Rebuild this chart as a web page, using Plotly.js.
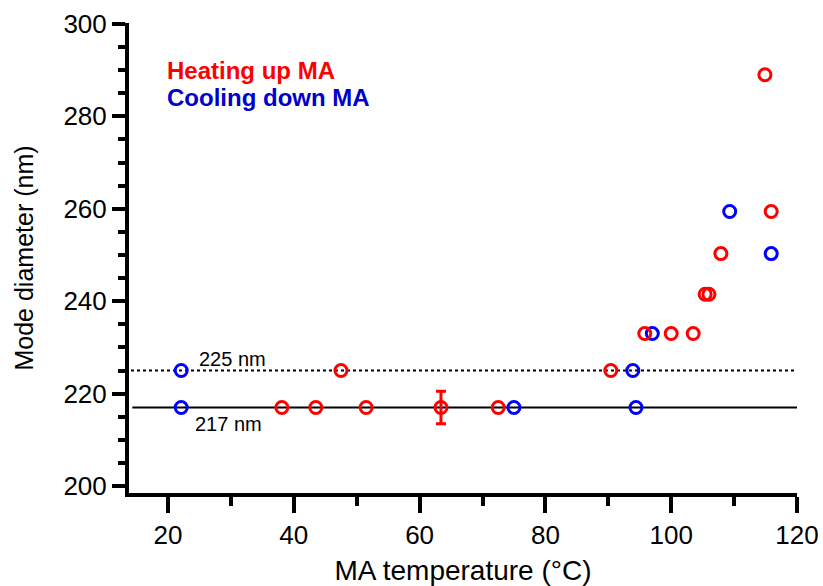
<!DOCTYPE html>
<html>
<head>
<meta charset="utf-8">
<script src="https://cdn.plot.ly/plotly-3.0.1.min.js"></script>
<style>html,body{margin:0;padding:0;background:#fff;}#chart{width:823px;height:586px;}</style>
</head>
<body>
<div id="chart"></div>
<script>
// Heating up MA
var heatX = [38.1, 43.5, 47.5, 51.5, 63.4, 72.5, 90.4, 95.8, 100.0, 103.5, 105.4, 106.0, 107.9, 114.9, 115.9];
var heatY = [217, 217, 225, 217, 217, 217, 225, 233, 233, 233, 241.5, 241.5, 250.3, 289, 259.4];
var heatErr = [0, 0, 0, 0, 3.5, 0, 0, 0, 0, 0, 0, 0, 0, 0, 0];
// Cooling down MA
var coolX = [22.1, 22.1, 75.0, 93.9, 94.4, 97.0, 109.3, 115.9];
var coolY = [225, 217, 217, 225, 217, 233, 259.4, 250.3];
// reference levels
var refSolid = 217;
var refDotted = 225;
var refLabels = ["225 nm", "217 nm"];
var seriesNames = ["Heating up MA", "Cooling down MA"];
var xTicks = [20, 40, 60, 80, 100, 120];
var yTicks = [200, 220, 240, 260, 280, 300];

var FONT = "Arial, 'Liberation Sans', sans-serif";
var RED = "#ff0000", BLUE = "#0000ff", BLUE_TXT = "#0000cc";

// split heating points into those with / without error bars
var hx0 = [], hy0 = [], hx1 = [], hy1 = [], he1 = [];
for (var i = 0; i < heatX.length; i++) {
  if (heatErr[i] > 0) { hx1.push(heatX[i]); hy1.push(heatY[i]); he1.push(heatErr[i]); }
  else { hx0.push(heatX[i]); hy0.push(heatY[i]); }
}

var redMarker = {symbol: "circle-open", size: 12, color: RED, line: {width: 3, color: RED}};
var traces = [
  {x: coolX, y: coolY, type: "scatter", mode: "markers", name: seriesNames[1],
   marker: {symbol: "circle-open", size: 12, color: BLUE, line: {width: 3, color: BLUE}}},
  {x: hx0, y: hy0, type: "scatter", mode: "markers", name: seriesNames[0], marker: redMarker},
  {x: hx1, y: hy1, type: "scatter", mode: "markers", name: seriesNames[0], marker: redMarker,
   error_y: {type: "data", array: he1, visible: true, color: RED, thickness: 3, width: 5}}
];

var layout = {
  width: 823, height: 586,
  margin: {l: 129, r: 26, t: 23, b: 93},
  paper_bgcolor: "#fff", plot_bgcolor: "#fff",
  showlegend: false,
  font: {family: FONT, color: "#000"},
  xaxis: {
    range: [13.8, 120], tickvals: xTicks, ticktext: xTicks.map(String),
    ticks: "outside", ticklen: 16, tickwidth: 4, tickcolor: "#000",
    showline: true, linewidth: 4, linecolor: "#000", showgrid: false, zeroline: false,
    tickfont: {size: 26, family: FONT},
    minor: {dtick: 10, tick0: 0, ticks: "outside", ticklen: 9, tickwidth: 4, tickcolor: "#000", showgrid: false},
    title: {text: "MA temperature (°C)", font: {size: 28, family: FONT}, standoff: 12}
  },
  yaxis: {
    range: [198.5, 300.2], tickvals: yTicks, ticktext: yTicks.map(String),
    ticks: "outside", ticklen: 13, tickwidth: 4, tickcolor: "#000",
    showline: true, linewidth: 4, linecolor: "#000", showgrid: false, zeroline: false,
    tickfont: {size: 26, family: FONT},
    minor: {dtick: 5, tick0: 0, ticks: "outside", ticklen: 7, tickwidth: 4, tickcolor: "#000", showgrid: false},
    title: {text: "Mode diameter (nm)", font: {size: 25, family: FONT}, standoff: 24}
  },
  shapes: [
    {type: "line", xref: "paper", x0: 0.005, x1: 1, yref: "y", y0: refSolid, y1: refSolid,
     line: {color: "#000", width: 2}, layer: "below"},
    {type: "line", xref: "paper", x0: 0.003, x1: 0.997, yref: "y", y0: refDotted, y1: refDotted,
     line: {color: "#000", width: 2, dash: "dot"}, layer: "below"}
  ],
  annotations: [
    {x: 24.6, y: refDotted, yshift: 12, xref: "x", yref: "y", text: refLabels[0], showarrow: false,
     xanchor: "left", yanchor: "middle", font: {size: 20, family: FONT, color: "#000"}},
    {x: 24.0, y: refSolid, yshift: -16, xref: "x", yref: "y", text: refLabels[1], showarrow: false,
     xanchor: "left", yanchor: "middle", font: {size: 20, family: FONT, color: "#000"}},
    {x: 19.5, y: 289.9, xref: "x", yref: "y", text: "<b>" + seriesNames[0] + "</b>", showarrow: false,
     xanchor: "left", yanchor: "middle", font: {size: 24, family: FONT, color: RED}},
    {x: 19.5, y: 284.0, xref: "x", yref: "y", text: "<b>" + seriesNames[1] + "</b>", showarrow: false,
     xanchor: "left", yanchor: "middle", font: {size: 24, family: FONT, color: BLUE_TXT}}
  ]
};

Plotly.newPlot("chart", traces, layout, {displayModeBar: false, staticPlot: true});
</script>
</body>
</html>
